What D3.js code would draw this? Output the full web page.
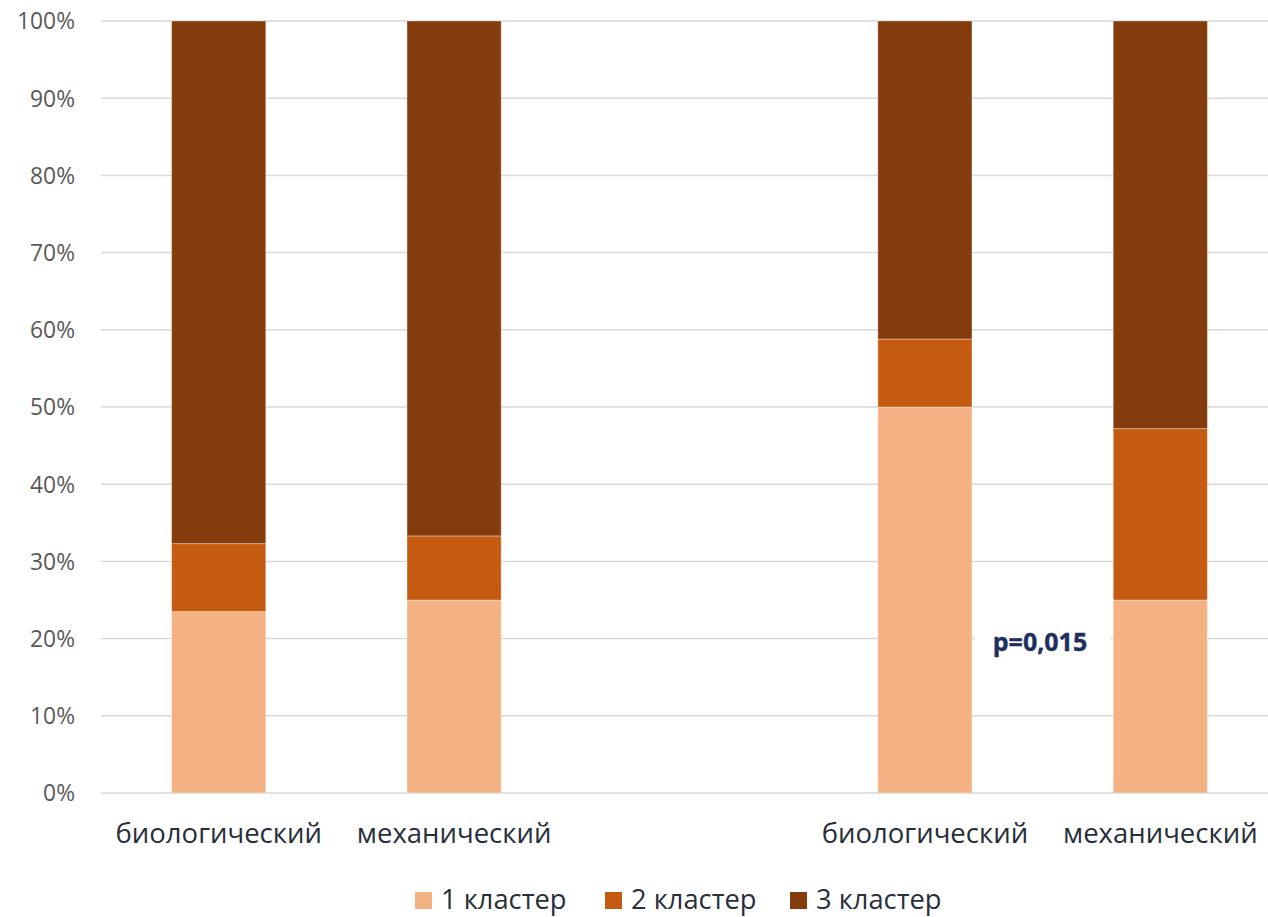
<!DOCTYPE html>
<html>
<head>
<meta charset="utf-8">
<script src="https://cdn.jsdelivr.net/npm/d3@7"></script>
<style>
  html, body { margin: 0; padding: 0; background: #fff; }
  svg { display: block; }
  text { font-family: "Open Sans", "Noto Sans", sans-serif; }
</style>
</head>
<body>
<svg id="chart" width="1268" height="917"></svg>
<script>
// Slots along the x axis (one empty slot separates the two groups)
const slots = ["bio1", "mech1", "gap", "bio2", "mech2"];
const slotLabels = ["биологический", "механический", "", "биологический", "механический"];
const barSlots = ["bio1", "mech1", "bio2", "mech2"];

// Share of each cluster per bar, %
const cluster1 = [23.5, 25.0, 50.0, 25.0];
const cluster2 = [8.8, 8.3, 8.8, 22.2];
const cluster3 = [67.7, 66.7, 41.2, 52.8];

const seriesNames = ["1 кластер", "2 кластер", "3 кластер"];
const seriesColors = ["#F4B183", "#C55A11", "#843C0C"];
const yTicks = [0, 10, 20, 30, 40, 50, 60, 70, 80, 90, 100];

const pLabel = "p=0,015";

const svg = d3.select("#chart");
const plot = { left: 101, right: 1278, top: 21, bottom: 793 };

const x = d3.scaleBand().domain(slots).range([plot.left, plot.right]).padding(0);
const y = d3.scaleLinear().domain([0, 100]).range([plot.bottom, plot.top]);
const barW = x.bandwidth() * 0.4;

// Gridlines
svg.append("g")
  .selectAll("line")
  .data(yTicks)
  .join("line")
  .attr("x1", plot.left).attr("x2", plot.right)
  .attr("y1", d => y(d)).attr("y2", d => y(d))
  .attr("stroke", "#D9D9D9").attr("stroke-width", 1.5);

// Y axis labels
const yAxis = d3.axisLeft(y).tickValues(yTicks).tickFormat(d => d + "%").tickSize(0).tickPadding(0);
const yg = svg.append("g").attr("transform", `translate(${plot.left - 26},0)`).call(yAxis);
yg.select(".domain").remove();
yg.selectAll("text")
  .attr("font-family", "'Open Sans', sans-serif")
  .attr("font-size", 22.8)
  .attr("fill", "#595959")
  .attr("dy", "0.35em");

// Stacked bars
const rows = barSlots.map((s, i) => ({ slot: s, c1: cluster1[i], c2: cluster2[i], c3: cluster3[i] }));
const stack = d3.stack().keys(["c1", "c2", "c3"]);
const layers = stack(rows);

svg.append("g")
  .selectAll("g")
  .data(layers)
  .join("g")
  .attr("fill", (d, i) => seriesColors[i])
  .selectAll("rect")
  .data(d => d)
  .join("rect")
  .attr("x", d => x(d.data.slot) + (x.bandwidth() - barW) / 2)
  .attr("width", barW)
  .attr("y", d => y(d[1]))
  .attr("height", d => y(d[0]) - y(d[1]))
  .attr("stroke", "rgba(255,255,255,0.35)")
  .attr("stroke-width", 1);

// X axis labels
const xAxis = d3.axisBottom(x).tickFormat((d, i) => slotLabels[i]).tickSize(0).tickPadding(0);
const xg = svg.append("g").attr("transform", `translate(0,843)`).call(xAxis);
xg.select(".domain").remove();
xg.selectAll("text")
  .attr("font-family", "'Open Sans', sans-serif")
  .attr("font-size", 27.5)
  .attr("fill", "#262F3A")
  .attr("y", 0)
  .attr("dy", 0);

// p-value label on a white box
const pg = svg.append("g");
const px = 1040;
const pBase = 651;
pg.append("rect")
  .attr("x", 975).attr("y", pBase - 28)
  .attr("width", 136).attr("height", 40)
  .attr("fill", "#fff");
pg.append("text")
  .attr("x", px).attr("y", pBase)
  .attr("text-anchor", "middle")
  .attr("font-family", "'Open Sans', sans-serif")
  .attr("font-weight", 700)
  .attr("font-size", 25)
  .attr("fill", "#1F3060")
  .attr("stroke", "#1F3060")
  .attr("stroke-width", 0.4)
  .text(pLabel);

// Legend
const legendX = [415, 605, 790];
const lg = svg.append("g");
const lBase = 909;
seriesNames.forEach((name, i) => {
  lg.append("rect").attr("x", legendX[i]).attr("y", lBase - 17).attr("width", 17).attr("height", 17).attr("fill", seriesColors[i]);
  lg.append("text").attr("x", legendX[i] + 26).attr("y", lBase)
    .attr("font-family", "'Open Sans', sans-serif")
    .attr("font-size", 27.3).attr("fill", "#262F3A").text(name);
});
</script>
</body>
</html>
